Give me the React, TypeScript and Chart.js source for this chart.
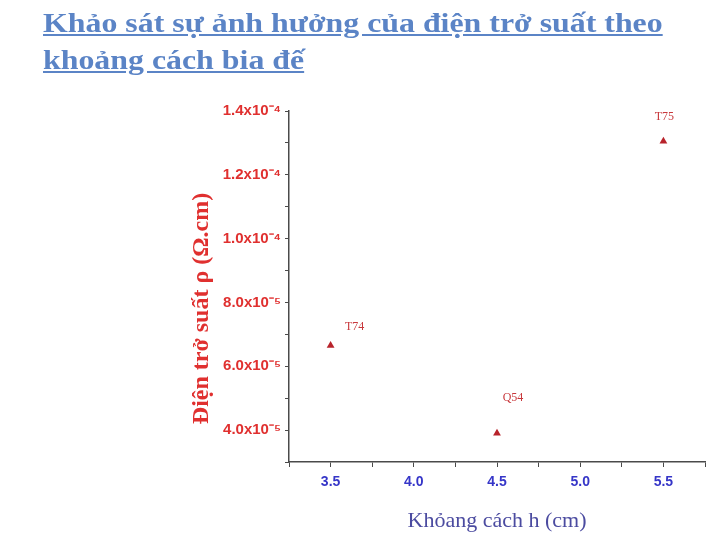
import { useEffect, useRef } from "react";
import { Chart, registerables } from "chart.js";

Chart.register(...registerables);

const sampleNames = ["T74", "Q54", "T75"];
const distances = [3.5, 4.5, 5.5];
const resistivity = [6.65e-5, 3.9e-5, 1.305e-4];

const xRange = [3.25, 5.75];
const yRange = [3e-5, 1.4e-4];

const yTitle = "Điện trở suất ρ (Ω.cm)";
const xTitle = "Khỏang cách h (cm)";

// where each sample name sits relative to its marker (px)
const labelOffsets = [
  [24, -19],
  [16, -35],
  [1, -24],
];

const pointLabels = {
  id: "pointLabels",
  afterDatasetsDraw(chart: Chart) {
    const ctx = chart.ctx;
    const meta = chart.getDatasetMeta(0);
    ctx.save();
    ctx.font = "12px 'Liberation Serif'";
    ctx.fillStyle = "#c8383c";
    ctx.textAlign = "center";
    ctx.textBaseline = "middle";
    meta.data.forEach((pt, i) => {
      const [dx, dy] = labelOffsets[i];
      ctx.fillText(sampleNames[i], pt.x + dx, pt.y + dy);
    });
    ctx.restore();
  },
};

// y title sits a bit below the middle of the axis in the original, so draw it by hand
const yAxisTitle = {
  id: "yAxisTitle",
  afterDraw(chart: Chart) {
    const { ctx, chartArea } = chart;
    const scale = chart.scales.y;
    ctx.save();
    ctx.translate(scale.left + 23, (chartArea.top + chartArea.bottom) / 2 + 22);
    ctx.rotate(-Math.PI / 2);
    ctx.font = "bold 24px 'Liberation Serif'";
    ctx.fillStyle = "#e0302f";
    ctx.textAlign = "center";
    ctx.textBaseline = "middle";
    ctx.fillText(yTitle, 0, 0);
    ctx.restore();
  },
};

function yLabel(v: number) {
  const n = Math.round(v * 1e5);
  if (n % 2 !== 0 || n < 4) return "";
  return n < 10 ? `${n}.0x10⁻⁵` : `${(n / 10).toFixed(1)}x10⁻⁴`;
}

function ResistivityChart() {
  const chartRef = useRef<HTMLCanvasElement>(null);
  const chartInstance = useRef<Chart | null>(null);

  useEffect(() => {
    if (!chartRef.current) return;
    if (chartInstance.current) chartInstance.current.destroy();
    const ctx = chartRef.current.getContext("2d");
    if (!ctx) return;

    chartInstance.current = new Chart(ctx, {
      type: "scatter",
      data: {
        datasets: [{
          data: distances.map((x, i) => ({ x, y: resistivity[i] })),
          pointStyle: "triangle",
          pointRadius: 4.5,
          backgroundColor: "#b8232b",
          borderColor: "#b8232b",
          borderWidth: 0,
        }],
      },
      options: {
        animation: false,
        responsive: false,
        layout: { padding: { left: 179, top: 111, right: 15, bottom: 6 } },
        plugins: { legend: { display: false }, tooltip: { enabled: false } },
        scales: {
          x: {
            type: "linear",
            min: xRange[0],
            max: xRange[1],
            afterFit: (s: any) => { s.height = 72; },
            border: { color: "#4a4a4a", width: 1.5 },
            grid: { drawOnChartArea: false, tickLength: 5, color: "#4a4a4a" },
            ticks: {
              stepSize: 0.25,
              padding: 7,
              color: "#3636c8",
              font: { family: "'Liberation Sans'", size: 14, weight: "bold" },
              callback: (v: any) => (Math.round(v * 4) % 2 === 0 ? Number(v).toFixed(1) : ""),
            },
            title: {
              display: true,
              text: xTitle,
              color: "#4b4ba0",
              font: { family: "'Liberation Serif'", size: 22 },
              padding: { top: 10, bottom: 0 },
            },
          },
          y: {
            type: "linear",
            min: yRange[0],
            max: yRange[1],
            afterFit: (s: any) => { s.width = 110; },
            border: { color: "#4a4a4a", width: 1.5 },
            grid: { drawOnChartArea: false, tickLength: 4, color: "#4a4a4a" },
            ticks: {
              stepSize: 1e-5,
              padding: 4,
              color: "#e0302f",
              font: { family: "'Liberation Sans'", size: 15, weight: "bold" },
              callback: (v: any) => yLabel(Number(v)),
            },
            title: { display: false },
          },
        },
      },
      plugins: [pointLabels, yAxisTitle],
    });

    return () => {
      if (chartInstance.current) {
        chartInstance.current.destroy();
        chartInstance.current = null;
      }
    };
  }, []);

  return <canvas ref={chartRef} width={720} height={540} style={{ position: "absolute", left: 0, top: 0 }} />;
}

export default function App() {
  useEffect(() => {
    document.body.style.margin = "0";
  }, []);

  return (
    <div style={{ position: "relative", width: 720, height: 540, background: "#fff", overflow: "hidden" }}>
      <ResistivityChart />
      <div
        style={{
          position: "absolute",
          left: 43,
          top: 5,
          width: 560,
          fontFamily: "'Liberation Serif', serif",
          fontWeight: "bold",
          fontSize: 27,
          lineHeight: "37px",
          color: "#5b84c6",
          textDecoration: "underline",
          transform: "scaleX(1.18)",
          transformOrigin: "left top",
        }}
      >
        Khảo sát sự ảnh hưởng của điện trở suất theo khoảng cách bia đế
      </div>
    </div>
  );
}
